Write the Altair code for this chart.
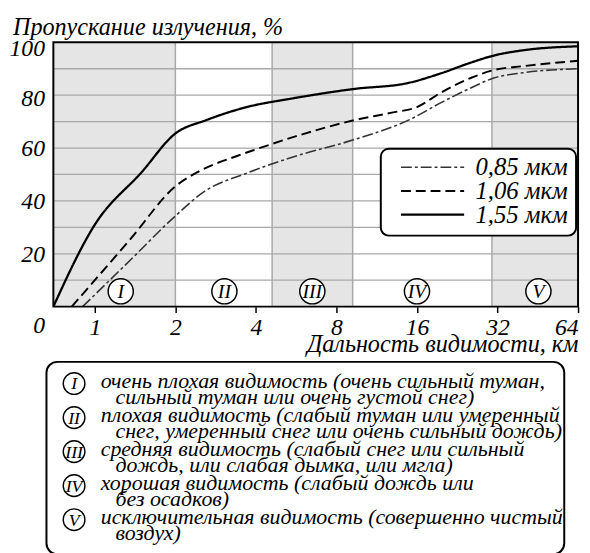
import altair as alt
import pandas as pd

# ---------------- data ----------------
series_names = ["0,85 мкм", "1,06 мкм", "1,55 мкм"]

x_085 = [0.90, 1.37, 2.0, 2.57, 3.7, 5.66, 9.2, 15.2, 19.7, 25.4, 31.0, 40.0, 64.0]
y_085 = [0.0, 18.0, 34.3, 43.6, 50.5, 57.0, 63.0, 71.0, 77.2, 82.7, 86.5, 88.5, 90.0]

x_106 = [0.82, 1.37, 2.0, 2.43, 3.4, 4.0, 5.66, 9.2, 12.9, 16.0, 19.7, 25.4, 31.0, 40.0, 64.0]
y_106 = [0.0, 26.0, 45.5, 51.0, 57.0, 59.5, 64.5, 70.4, 73.4, 75.5, 81.0, 86.5, 89.5, 91.0, 93.0]

x_155 = [0.70, 1.0, 1.5, 2.0, 2.6, 3.7, 5.5, 9.2, 14.8, 19.7, 25.4, 31.0, 40.0, 64.0]
y_155 = [0.0, 31.0, 51.0, 65.5, 70.5, 75.5, 78.8, 82.3, 84.6, 88.3, 92.3, 95.0, 97.0, 98.5]

zone_numerals = ["I", "II", "III", "IV", "V"]
zone_start = [0.7, 2.0, 4.6, 9.2, 30.5]
zone_end = [2.0, 4.6, 9.2, 30.5, 64.0]
zone_shaded = [True, False, True, False, True]
zone_label_km = [1.25, 3.05, 6.5, 16.0, 45.5]
zone_label_pct = [5.8, 5.8, 5.8, 5.8, 5.8]
zone_bounds = [2.0, 4.6, 9.2, 30.5]

grid_pct = [10, 20, 30, 40, 50, 60, 70, 80, 90]
x_ticks = [1, 2, 4, 8, 16, 32, 64]
y_ticks = [0, 20, 40, 60, 80, 100]

desc_line1 = [
    "очень плохая видимость (очень сильный туман,",
    "плохая видимость (слабый туман или умеренный",
    "средняя видимость (слабый снег или сильный",
    "хорошая видимость (слабый дождь или",
    "исключительная видимость (совершенно чистый",
]
desc_line2 = [
    "сильный туман или очень густой снег)",
    "снег, умеренный снег или очень сильный дождь)",
    "дождь, или слабая дымка, или мгла)",
    "без осадков)",
    "воздух)",
]

title_text = "Пропускание излучения, %"
x_title = "Дальность видимости, км"

# ---------------- tables ----------------
lines_df = pd.concat([
    pd.DataFrame({"km": x_085, "pct": y_085, "series": series_names[0]}),
    pd.DataFrame({"km": x_106, "pct": y_106, "series": series_names[1]}),
    pd.DataFrame({"km": x_155, "pct": y_155, "series": series_names[2]}),
])
zones_df = pd.DataFrame({
    "numeral": zone_numerals, "start": zone_start, "end": zone_end,
    "shaded": zone_shaded, "lx": zone_label_km, "ly": zone_label_pct,
    "row": list(range(5)),
})
bounds_df = pd.DataFrame({"km": zone_bounds})
grid_df = pd.DataFrame({"pct": grid_pct})
desc1_df = pd.DataFrame({"text": desc_line1, "row": list(range(5))})
desc2_df = pd.DataFrame({"text": desc_line2, "row": list(range(5))})
one = pd.DataFrame({"t": [title_text]})

W, H = 532, 268
FONT = "'Liberation Serif', 'Times New Roman', Times, serif"
GRID = "#a9a9a9"
PX = "100 - ({}) * 100 / 268"  # pixel row (from plot top) -> percent units

x_scale = alt.Scale(type="log", base=2, domain=[0.7, 64], nice=False)
y_scale = alt.Scale(domain=[0, 100], nice=False)

x_axis = alt.Axis(
    values=x_ticks, format="d", title=x_title, grid=False, domain=False,
    ticks=True, tickSize=6, tickWidth=1.5, tickColor="black",
    labelFont=FONT, labelFontStyle="italic", labelFontSize=24, labelColor="black",
    labelBaseline="alphabetic", labelPadding=22, labelOverlap=False,
    labelAlign={"expr": "datum.value == 64 ? 'right' : 'center'"},
    titleFont=FONT, titleFontStyle="italic", titleFontSize=24.5, titleFontWeight="normal",
    titleColor="black", titleX=W, titleY=46, titleAlign="right",
    titleBaseline="alphabetic", titleAnchor="end",
)
y_axis = alt.Axis(
    values=y_ticks, title=None, grid=False, domain=False, ticks=False,
    labelPadding=9, labelFont=FONT, labelFontStyle="italic", labelFontSize=24,
    labelColor="black", labelOverlap=False,
    labelOffset={"expr": "datum.value == 0 ? 19 : datum.value == 100 ? 6 : datum.value == 80 ? 3 : 1"},
)

X = lambda f: alt.X(f, scale=x_scale, axis=x_axis)
Y = lambda f: alt.Y(f, scale=y_scale, axis=y_axis)

bands = alt.Chart(zones_df).transform_filter("datum.shaded").mark_rect(color="#e5e5e5").encode(
    x=X("start:Q"), x2="end:Q",
    y=alt.Y(datum=0, scale=y_scale, axis=y_axis), y2=alt.Y2(datum=100),
)

hgrid = alt.Chart(grid_df).mark_rule(color=GRID, strokeWidth=1.3).encode(y=Y("pct:Q"))
vgrid = alt.Chart(bounds_df).mark_rule(color=GRID, strokeWidth=1.5).encode(x=X("km:Q"))

legend = alt.Legend(
    title=None, orient="none", legendX=332, legendY=108,
    symbolType="stroke", symbolSize=4096, symbolOffset=11, clipHeight=21.5,
    labelFont=FONT, labelFontStyle="italic", labelFontSize=25, labelColor="black",
    labelOffset=10, padding=8, rowPadding=-3.5,
    fillColor="white", strokeColor="black", cornerRadius=8,
    labelExpr="datum.label + '\u00a0\u00a0\u00a0'",
)

lines = alt.Chart(lines_df).mark_line(interpolate="monotone", clip=True).encode(
    x=X("km:Q"), y=Y("pct:Q"),
    color=alt.Color("series:N", scale=alt.Scale(domain=series_names, range=["#333333", "#000000", "#000000"]), legend=legend),
    strokeDash=alt.StrokeDash("series:N", scale=alt.Scale(domain=series_names, range=[[11, 3, 3, 3], [10, 5], [1, 0]]), legend=legend),
    strokeWidth=alt.StrokeWidth("series:N", scale=alt.Scale(domain=series_names, range=[1.6, 2.3, 2.0]), legend=legend),
)

circles = alt.Chart(zones_df).mark_point(
    shape="circle", size=650, filled=True, fill="white", stroke="black", strokeWidth=1.5, opacity=1
).encode(x=X("lx:Q"), y=Y("ly:Q"))
numerals = alt.Chart(zones_df).mark_text(
    font=FONT, fontStyle="italic", fontSize=20, baseline="middle", align="center", dy=1, color="black"
).encode(x=X("lx:Q"), y=Y("ly:Q"), text="numeral:N")

frame = alt.Chart(one).mark_rect(filled=False, stroke="black", strokeWidth=2).encode(
    x=alt.value(0), x2=alt.value(W), y=alt.value(0), y2=alt.value(H)
)

box = alt.Chart(one).mark_rect(fill="white", stroke="black", strokeWidth=2, cornerRadius=11).encode(
    x=alt.value(-7), x2=alt.value(518), y=alt.value(324), y2=alt.value(519)
)

desc_circles = alt.Chart(zones_df).transform_calculate(
    cy=PX.format("346 + 34.5 * datum.row")
).mark_point(shape="circle", size=484, filled=True, fill="white", stroke="black", strokeWidth=1.4, opacity=1).encode(
    x=alt.value(21), y=Y("cy:Q")
)
desc_numerals = alt.Chart(zones_df).transform_calculate(
    cy=PX.format("346 + 34.5 * datum.row")
).mark_text(font=FONT, fontStyle="italic", fontSize=18, baseline="middle", align="center", dy=1, color="black").encode(
    x=alt.value(21), y=Y("cy:Q"), text="numeral:N"
)
desc_text1 = alt.Chart(desc1_df).transform_calculate(
    ty=PX.format("350 + 34.5 * datum.row")
).mark_text(font=FONT, fontStyle="italic", fontSize=22.2, baseline="alphabetic", align="left", color="black").encode(
    x=alt.value(48), y=Y("ty:Q"), text="text:N"
)
desc_text2 = alt.Chart(desc2_df).transform_calculate(
    ty=PX.format("366.5 + 34.5 * datum.row")
).mark_text(font=FONT, fontStyle="italic", fontSize=22.2, baseline="alphabetic", align="left", color="black").encode(
    x=alt.value(63), y=Y("ty:Q"), text="text:N"
)

title = alt.Chart(one).mark_text(
    font=FONT, fontStyle="italic", fontSize=24.5, baseline="alphabetic", align="left", color="black"
).encode(x=alt.value(-41), y=alt.value(-7), text="t:N")

chart = alt.layer(
    bands, hgrid, vgrid, lines, circles, numerals, frame, box,
    desc_circles, desc_numerals, desc_text1, desc_text2, title,
).properties(
    width=W, height=H,
    padding={"left": 46, "top": 31, "right": 4, "bottom": 246},
    autosize=alt.AutoSizeParams(type="none"),
    background="white",
).configure_view(stroke=None).configure_legend(strokeWidth=2)

chart.save("out.html", embed_options={"renderer": "svg", "actions": False})
